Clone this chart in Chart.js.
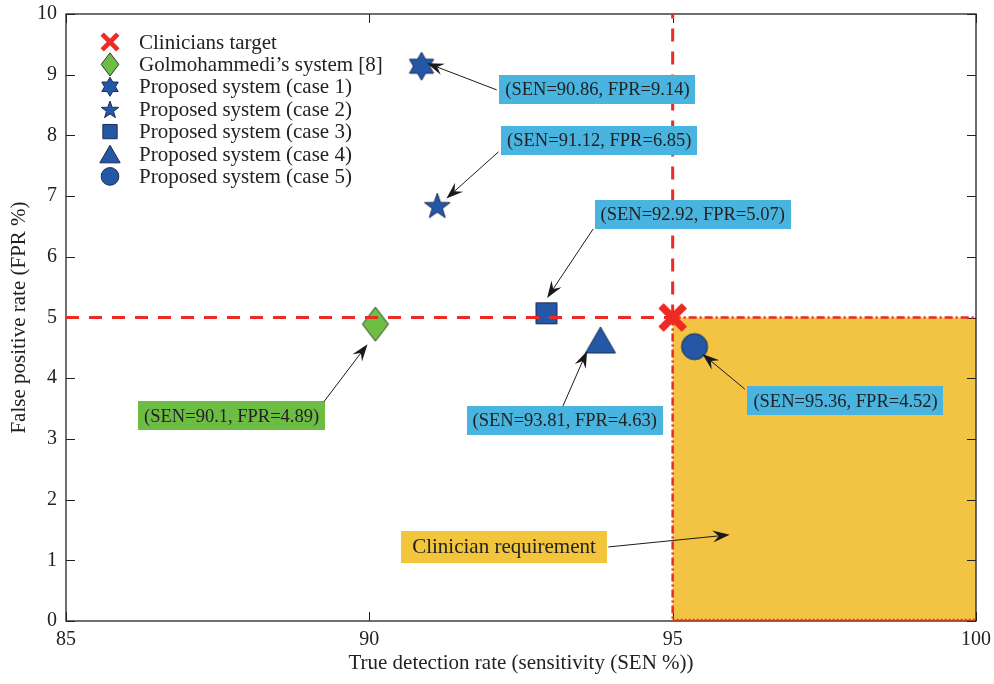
<!DOCTYPE html>
<html>
<head>
<meta charset="utf-8">
<script src="https://cdn.jsdelivr.net/npm/chart.js@4/dist/chart.umd.min.js"></script>
<style>
  html, body { margin: 0; padding: 0; background: #ffffff; }
  canvas { display: block; }
</style>
</head>
<body>
<canvas id="chart" width="994" height="684"></canvas>
<script>
// ---- data ----
const seriesNames = [
  'Clinicians target',
  'Golmohammedi\u2019s system [8]',
  'Proposed system (case 1)',
  'Proposed system (case 2)',
  'Proposed system (case 3)',
  'Proposed system (case 4)',
  'Proposed system (case 5)'
];
const senValues = [95, 90.1, 90.86, 91.12, 92.92, 93.81, 95.36];
const fprValues = [5, 4.89, 9.14, 6.85, 5.07, 4.63, 4.52];
const xTickValues = [85, 90, 95, 100];
const yTickValues = [0, 1, 2, 3, 4, 5, 6, 7, 8, 9, 10];
const requirementSEN = [95, 100];
const requirementFPR = [0, 5];
const requirementText = 'Clinician requirement';

// ---- styling ----
const SERIF = '"Liberation Serif", "Times New Roman", Times, serif';
const INK = '#222222';
const RED = '#EE2A24';
const BLUE = '#2457A6';
const BLUE_EDGE = '#1B2C55';
const GREEN = '#6DBE45';
const GREEN_EDGE = '#2B3A22';
const CALLOUT_BLUE = '#48B4DF';
const CALLOUT_GREEN = '#6DBD45';
const REGION_FILL = '#F3C343';

const markerShapes = ['cross', 'diamond', 'hexagram', 'star', 'square', 'triangle', 'circle'];

// callout boxes: centre of box, arrow tail and arrow tip, in axis units
const callouts = [
  null,
  { box: [87.73, 3.38], tail: [89.25, 3.61], tip: [89.97, 4.56], fill: CALLOUT_GREEN },
  { box: [93.76, 8.76], tail: [92.10, 8.75], tip: [90.95, 9.19], fill: CALLOUT_BLUE },
  { box: [93.79, 7.92], tail: [92.13, 7.73], tip: [91.27, 6.96], fill: CALLOUT_BLUE },
  { box: [95.33, 6.70], tail: [93.69, 6.46], tip: [92.93, 5.32], fill: CALLOUT_BLUE },
  { box: [93.22, 3.31], tail: [93.19, 3.54], tip: [93.59, 4.45], fill: CALLOUT_BLUE },
  { box: [97.85, 3.63], tail: [96.19, 3.82], tip: [95.49, 4.40], fill: CALLOUT_BLUE }
];
const requirementCallout = { box: [92.22, 1.22], tail: [93.94, 1.22], tip: [95.94, 1.42] };

// ---- markers ----
function paintMarker(ctx, shape, x, y, s) {
  ctx.save();
  ctx.translate(x, y);
  if (shape === 'cross') {
    ctx.strokeStyle = RED;
    ctx.lineWidth = 7 * s;
    ctx.lineCap = 'butt';
    const a = 11.5 * s;
    ctx.beginPath();
    ctx.moveTo(-a, -a); ctx.lineTo(a, a);
    ctx.moveTo(a, -a); ctx.lineTo(-a, a);
    ctx.stroke();
    ctx.restore();
    return;
  }
  ctx.beginPath();
  if (shape === 'diamond') {
    ctx.moveTo(0, -17 * s); ctx.lineTo(13 * s, 0); ctx.lineTo(0, 17 * s); ctx.lineTo(-13 * s, 0);
    ctx.closePath();
  } else if (shape === 'hexagram') {
    const R = 14 * s, r = R / Math.sqrt(3);
    for (let i = 0; i < 12; i++) {
      const rad = (i % 2 ? r : R), ang = (-90 + i * 30) * Math.PI / 180;
      const px = rad * Math.cos(ang), py = rad * Math.sin(ang);
      if (i === 0) ctx.moveTo(px, py); else ctx.lineTo(px, py);
    }
    ctx.closePath();
  } else if (shape === 'star') {
    const R = 13.5 * s, r = R * 0.40;
    for (let i = 0; i < 10; i++) {
      const rad = (i % 2 ? r : R), ang = (-90 + i * 36) * Math.PI / 180;
      const px = rad * Math.cos(ang), py = rad * Math.sin(ang) + 1.5 * s;
      if (i === 0) ctx.moveTo(px, py); else ctx.lineTo(px, py);
    }
    ctx.closePath();
  } else if (shape === 'square') {
    ctx.rect(-10.5 * s, -10.5 * s, 21 * s, 21 * s);
  } else if (shape === 'triangle') {
    ctx.moveTo(0, -13 * s); ctx.lineTo(15 * s, 13 * s); ctx.lineTo(-15 * s, 13 * s);
    ctx.closePath();
  } else if (shape === 'circle') {
    ctx.arc(0, 0, 13 * s, 0, Math.PI * 2);
  }
  ctx.fillStyle = shape === 'diamond' ? GREEN : BLUE;
  ctx.strokeStyle = shape === 'diamond' ? GREEN_EDGE : BLUE_EDGE;
  ctx.lineWidth = 1;
  ctx.fill();
  ctx.stroke();
  ctx.restore();
}

const markerImages = markerShapes.map(shape => {
  const c = document.createElement('canvas');
  c.width = 44; c.height = 44;
  paintMarker(c.getContext('2d'), shape, 22, 22, 1);
  return c;
});

// ---- drawing helpers ----
function px(chart, v) { return chart.scales.x.getPixelForValue(v); }
function py(chart, v) { return chart.scales.y.getPixelForValue(v); }

function drawArrow(ctx, x0, y0, x1, y1) {
  const ang = Math.atan2(y1 - y0, x1 - x0);
  const len = 17, half = 6, notch = 11;
  const ca = Math.cos(ang), sa = Math.sin(ang);
  ctx.save();
  ctx.strokeStyle = '#1a1a1a';
  ctx.fillStyle = '#1a1a1a';
  ctx.lineWidth = 1;
  ctx.beginPath();
  ctx.moveTo(x0, y0);
  ctx.lineTo(x1 - ca * notch, y1 - sa * notch);
  ctx.stroke();
  ctx.beginPath();
  ctx.moveTo(x1, y1);
  ctx.lineTo(x1 - ca * len - sa * half, y1 - sa * len + ca * half);
  ctx.lineTo(x1 - ca * notch, y1 - sa * notch);
  ctx.lineTo(x1 - ca * len + sa * half, y1 - sa * len - ca * half);
  ctx.closePath();
  ctx.fill();
  ctx.restore();
}

function drawCallout(ctx, chart, text, spec, fill, fontSize, padX, boxH) {
  const cx = px(chart, spec.box[0]), cy = py(chart, spec.box[1]);
  ctx.save();
  ctx.font = fontSize + 'px ' + SERIF;
  const w = ctx.measureText(text).width + padX * 2;
  ctx.fillStyle = fill;
  ctx.fillRect(Math.round(cx - w / 2), Math.round(cy - boxH / 2), Math.round(w), boxH);
  ctx.fillStyle = INK;
  ctx.textAlign = 'center';
  ctx.textBaseline = 'middle';
  ctx.fillText(text, cx, cy + 1);
  ctx.restore();
  drawArrow(ctx, px(chart, spec.tail[0]), py(chart, spec.tail[1]), px(chart, spec.tip[0]), py(chart, spec.tip[1]));
}

const framePlugin = {
  id: 'frame',
  beforeDatasetsDraw(chart) {
    const ctx = chart.ctx;
    const { left, right, top, bottom } = chart.chartArea;
    // requirement region
    const rx0 = px(chart, requirementSEN[0]), rx1 = px(chart, requirementSEN[1]);
    const ry0 = py(chart, requirementFPR[1]), ry1 = py(chart, requirementFPR[0]);
    ctx.save();
    ctx.fillStyle = REGION_FILL;
    ctx.fillRect(rx0, ry0, rx1 - rx0, ry1 - ry0);
    // axes box
    ctx.strokeStyle = INK;
    ctx.lineWidth = 1.3;
    ctx.strokeRect(left, top, right - left, bottom - top);
    // inward tick marks on all four sides
    ctx.lineWidth = 1;
    ctx.beginPath();
    chart.scales.x.ticks.forEach(t => {
      const x = Math.round(px(chart, t.value)) + 0.5;
      ctx.moveTo(x, bottom); ctx.lineTo(x, bottom - 9);
      ctx.moveTo(x, top); ctx.lineTo(x, top + 9);
    });
    chart.scales.y.ticks.forEach(t => {
      const y = Math.round(py(chart, t.value)) + 0.5;
      ctx.moveTo(left, y); ctx.lineTo(left + 9, y);
      ctx.moveTo(right, y); ctx.lineTo(right - 9, y);
    });
    ctx.stroke();
    ctx.restore();
  },
  afterDatasetsDraw(chart) {
    const ctx = chart.ctx;
    const { left, top } = chart.chartArea;
    const tx = px(chart, senValues[0]), ty = py(chart, fprValues[0]);
    const rx1 = px(chart, requirementSEN[1]);
    const ry1 = py(chart, requirementFPR[0]);
    ctx.save();
    ctx.strokeStyle = RED;
    // dashed guide lines through the clinicians target
    ctx.lineWidth = 3;
    ctx.setLineDash([13, 10]);
    ctx.beginPath();
    ctx.moveTo(left, ty); ctx.lineTo(tx, ty);
    ctx.stroke();
    ctx.beginPath();
    ctx.moveTo(tx, ty); ctx.lineTo(tx, top);
    ctx.stroke();
    // requirement region outline: dash-dot top and left, dotted bottom
    ctx.lineWidth = 2.5;
    ctx.setLineDash([8, 3, 2, 3]);
    ctx.beginPath();
    ctx.moveTo(tx, ty); ctx.lineTo(rx1, ty);
    ctx.stroke();
    ctx.beginPath();
    ctx.moveTo(tx, ty); ctx.lineTo(tx, ry1);
    ctx.stroke();
    ctx.setLineDash([2, 2]);
    ctx.beginPath();
    ctx.moveTo(tx, ry1 - 1); ctx.lineTo(rx1, ry1 - 1);
    ctx.stroke();
    ctx.restore();
    // redraw the target cross above the guide lines
    paintMarker(ctx, 'cross', tx, ty, 1);

    // value callouts
    for (let i = 1; i < seriesNames.length; i++) {
      const text = '(SEN=' + senValues[i] + ', FPR=' + fprValues[i] + ')';
      drawCallout(ctx, chart, text, callouts[i], callouts[i].fill, 18.5, 6, 29);
    }
    drawCallout(ctx, chart, requirementText, requirementCallout, '#F2C53D', 21, 11, 32);
  },
  afterDraw(chart) {
    // legend inside the axes, top-left
    const ctx = chart.ctx;
    const { left, top } = chart.chartArea;
    ctx.save();
    ctx.font = '21px ' + SERIF;
    ctx.fillStyle = INK;
    ctx.textAlign = 'left';
    ctx.textBaseline = 'middle';
    seriesNames.forEach((name, i) => {
      const y = top + 28 + i * 22.4;
      paintMarker(ctx, markerShapes[i], left + 44, y, 0.68);
      ctx.fillText(name, left + 73, y + 1);
    });
    ctx.restore();
  }
};

new Chart(document.getElementById('chart'), {
  type: 'scatter',
  data: {
    datasets: seriesNames.map((name, i) => ({
      label: name,
      data: [{ x: senValues[i], y: fprValues[i] }],
      pointStyle: markerImages[i],
      pointRadius: 13,
      pointHoverRadius: 13,
      showLine: false
    }))
  },
  options: {
    responsive: false,
    animation: false,
    devicePixelRatio: 1,
    events: [],
    layout: { padding: { top: 14, right: 18, left: 0, bottom: 0 } },
    plugins: {
      legend: { display: false },
      tooltip: { enabled: false }
    },
    scales: {
      x: {
        type: 'linear',
        min: 85,
        max: 100,
        afterBuildTicks: s => { s.ticks = xTickValues.map(v => ({ value: v })); },
        afterFit: s => { s.height = 63; s.paddingLeft = 0; s.paddingRight = 0; },
        grid: { display: false, drawTicks: false },
        border: { display: false },
        ticks: { padding: 7, color: INK, font: { family: SERIF, size: 20 } },
        title: {
          display: true,
          text: 'True detection rate (sensitivity (SEN %))',
          color: INK,
          font: { family: SERIF, size: 21 },
          padding: { top: 0, bottom: 8 }
        }
      },
      y: {
        type: 'linear',
        min: 0,
        max: 10,
        afterBuildTicks: s => { s.ticks = yTickValues.map(v => ({ value: v })); },
        afterFit: s => { s.width = 66; s.paddingTop = 0; s.paddingBottom = 0; },
        grid: { display: false, drawTicks: false },
        border: { display: false },
        ticks: { padding: 9, color: INK, font: { family: SERIF, size: 20 } },
        title: {
          display: true,
          text: 'False positive rate (FPR %)',
          color: INK,
          font: { family: SERIF, size: 21 },
          padding: { top: 7, bottom: 0 }
        }
      }
    }
  },
  plugins: [framePlugin]
});
</script>
</body>
</html>
